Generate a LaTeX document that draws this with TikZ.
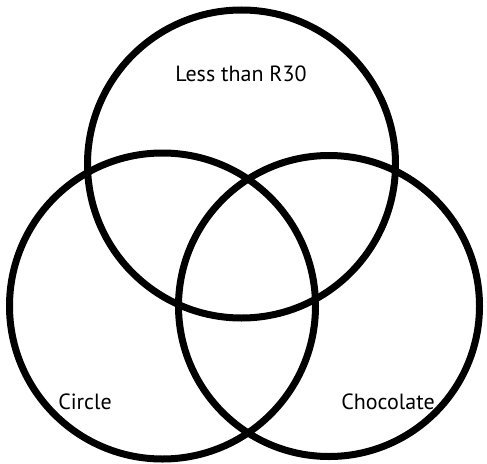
\documentclass[tikz,border=0pt]{standalone}
\usepackage{fontspec}
\setmainfont{PT Sans}
\begin{document}
\begin{tikzpicture}[x=1pt,y=-1pt,
  ring/.style={draw=black,line width=7pt},
  lbl/.style={font=\fontsize{22}{26}\selectfont,inner sep=0pt,anchor=base}]
\useasboundingbox (0,0) rectangle (487,463);
\draw[ring] (241.5,164) circle (154);
\draw[ring] (162.5,306) circle (153);
\draw[ring] (329,306) circle (150.5);
\node[lbl] (top) at (241,81) {Less than R30};
\node[lbl] (left) at (85,409) {Circle};
\node[lbl] (right) at (388,409) {Chocolate};
\end{tikzpicture}
\end{document}
